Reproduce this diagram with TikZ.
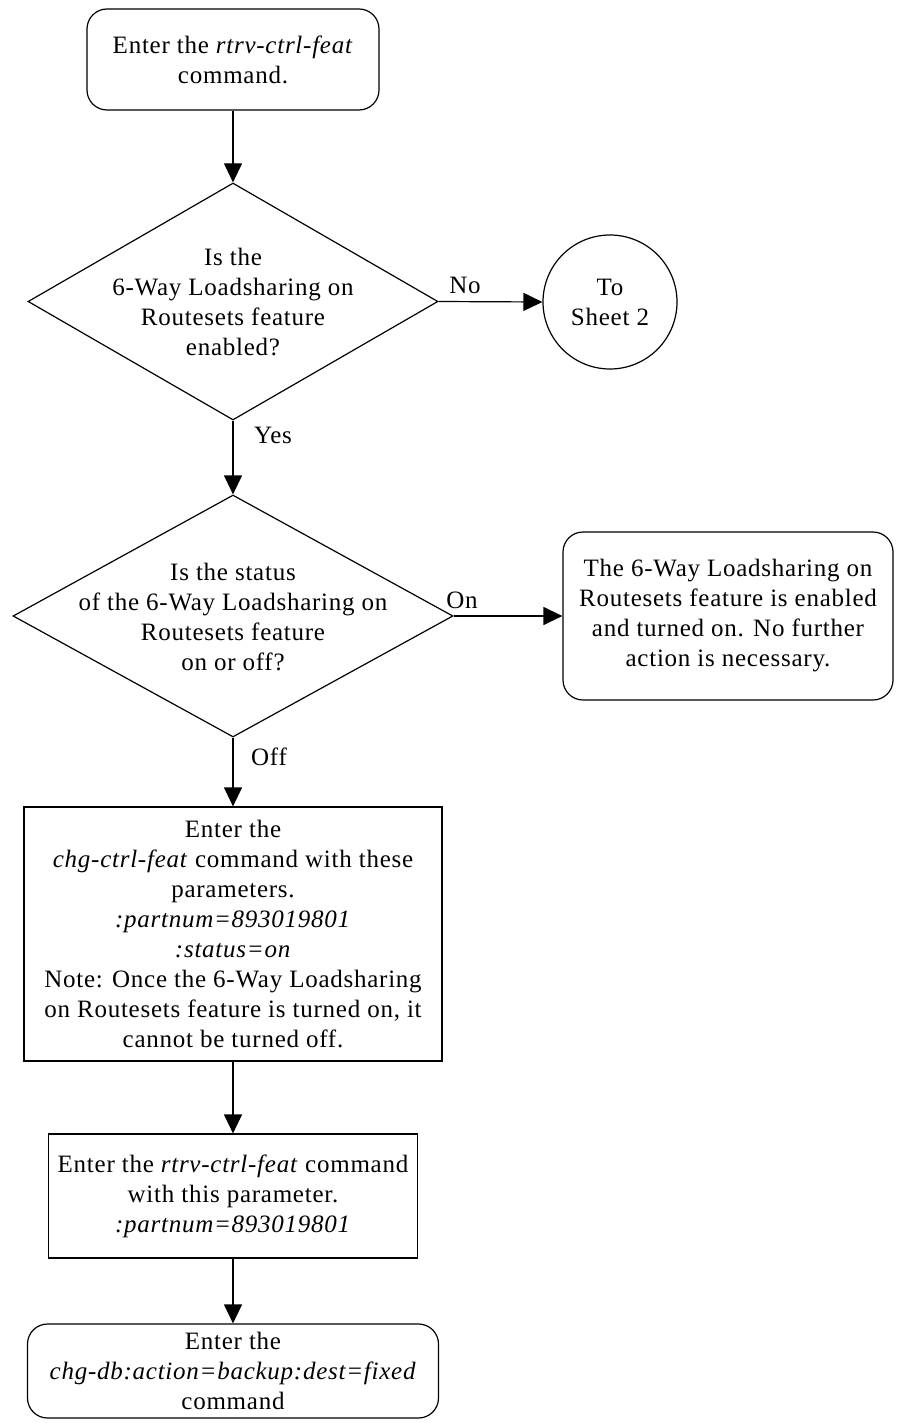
\documentclass[tikz,border=0pt]{standalone}
\usepackage{fontspec}
\setmainfont{Liberation Serif}[LetterSpace=3]
\usetikzlibrary{shapes.geometric,arrows.meta}
\begin{document}
\begin{tikzpicture}[x=1pt,y=-1pt,
  every node/.style={font=\fontsize{25}{30}\selectfont, align=center, inner sep=0pt},
  rbox/.style={draw, rounded corners=20pt, line width=1.2pt},
  sbox/.style={draw, line width=1.2pt},
  dia/.style={draw, diamond, line width=1.2pt},
  conn/.style={line width=1.2pt, -{Triangle[length=19pt,width=18pt]}}]
\useasboundingbox (0,0) rectangle (897,1423);

\node[rbox, minimum width=292pt, minimum height=101pt] (start) at (233,59.5)
  {Enter the \textit{rtrv-ctrl-feat}\\command.};

\node[dia, minimum width=410pt, minimum height=237pt] (d1) at (233,301.5) {};
\node (d1t) at (233,302) {Is the\\6-Way Loadsharing on\\Routesets feature\\enabled?};

\node[draw, circle, minimum size=134pt, line width=1.2pt] (s2) at (610,302) {To\\Sheet 2};

\node[dia, minimum width=440pt, minimum height=242pt] (d2) at (233,616) {};
\node (d2t) at (233,617) {Is the status\\of the 6-Way Loadsharing on\\Routesets feature\\on or off?};

\node[rbox, minimum width=330pt, minimum height=168pt] (done) at (728,616)
  {The 6-Way Loadsharing on\\Routesets feature is enabled\\and turned on. No further\\action is necessary.};

\node[sbox, minimum width=418pt, minimum height=254pt] (chg) at (233,934)
  {Enter the\\\textit{chg-ctrl-feat} command with these\\parameters.\\\textit{:partnum=893019801}\\\textit{:status=on}\\Note: Once the 6-Way Loadsharing\\on Routesets feature is turned on, it\\cannot be turned off.};

\node[sbox, minimum width=369pt, minimum height=124pt] (rtrv) at (233,1196)
  {Enter the \textit{rtrv-ctrl-feat} command\\with this parameter.\\\textit{:partnum=893019801}};

\node[rbox, minimum width=411pt, minimum height=94pt] (bkp) at (233,1371)
  {Enter the\\\textit{chg-db:action=backup:dest=fixed}\\command};

\node (lno) at (465,285) {No};
\node (lyes) at (273,435) {Yes};
\node (lon) at (462,600) {On};
\node (loff) at (269,757) {Off};

\draw[conn] (start) -- (d1);
\draw[conn] (d1.east) -- (s2.west);
\draw[conn] (d1.south) -- (d2.north);
\draw[conn] (d2.east) -- (done.west);
\draw[conn] (d2.south) -- (chg.north);
\draw[conn] (chg.south) -- (rtrv.north);
\draw[conn] (rtrv.south) -- (bkp.north);
\end{tikzpicture}
\end{document}
